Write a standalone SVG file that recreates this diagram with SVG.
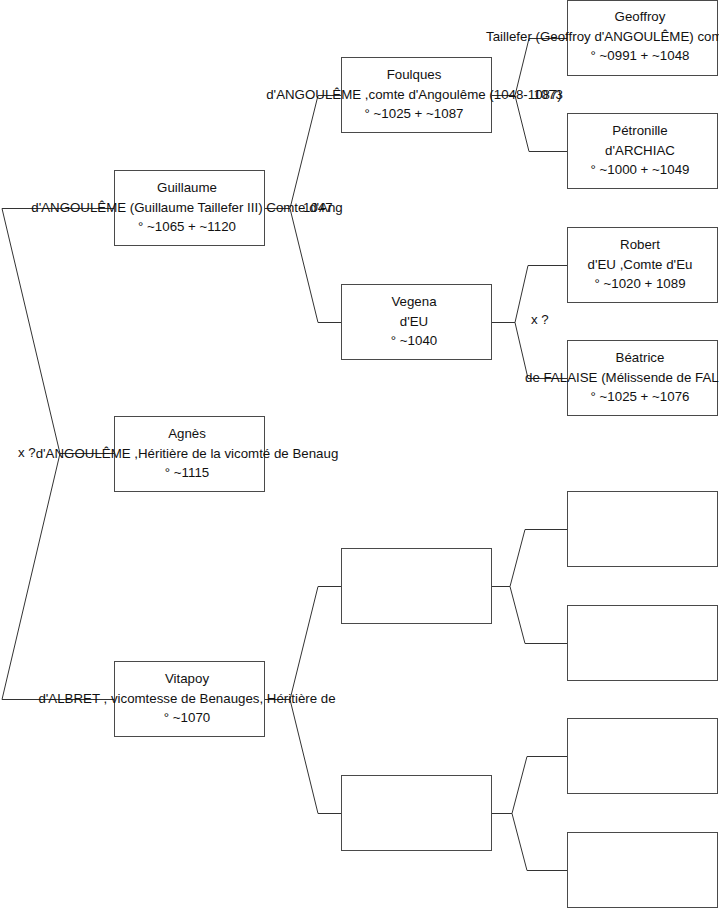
<svg xmlns="http://www.w3.org/2000/svg" width="719" height="908" viewBox="0 0 719 908">
<style>
.box{fill:none;stroke:#4a4a4a;stroke-width:1}
.t{font-family:"Liberation Sans",Arial,sans-serif;font-size:13.3px;fill:#111;text-anchor:middle}
.s{text-anchor:start}
.e{text-anchor:end}
.c{fill:none;stroke:#333;stroke-width:1}
</style>
<rect width="719" height="908" fill="#fff"/>
<g id="connectors">
<path class="c" d="M114,453.5 H60 L2,208.5 H114 M60,453.5 L2,699.5 H114"/>
<path class="c" d="M265,208.5 H290 L318,95.5 H341 M290,208.5 L318,322.5 H341"/>
<path class="c" d="M265,699.5 H290 L318,586.5 H341 M290,699.5 L318,813.5 H341"/>
<path class="c" d="M492,95.5 H515 L529,38.5 H567 M515,95.5 L529,151.5 H567"/>
<path class="c" d="M492,322.5 H515 L528,265.5 H567 M515,322.5 L528,378.5 H567"/>
<path class="c" d="M492,586.5 H510 L525,529.5 H567 M510,586.5 L525,643.5 H567"/>
<path class="c" d="M492,813.5 H512 L527,756.5 H567 M512,813.5 L527,870.5 H567"/>
<text class="t s" x="531" y="324">x ?</text>
<text class="t s" x="18" y="457">x ?</text>
</g>
<g id="guillaume">
<rect class="box" x="114.5" y="170.5" width="150" height="75"/>
<text class="t" x="187" y="192">Guillaume</text>
<text class="t" x="187" y="212">d'ANGOULÊME (Guillaume Taillefer III) Comte d'Ang</text>
<text class="t s" x="303" y="212">1047</text>
<text class="t" x="187" y="231">° ~1065 + ~1120</text>
</g>
<g id="agnes">
<rect class="box" x="114.5" y="416.5" width="150" height="75"/>
<text class="t" x="187" y="438">Agnès</text>
<text class="t" x="187" y="458">d'ANGOULÊME ,Héritière de la vicomté de Benaug</text>
<text class="t" x="187" y="477">° ~1115</text>
</g>
<g id="vitapoy">
<rect class="box" x="114.5" y="661.5" width="150" height="75"/>
<text class="t" x="187" y="683">Vitapoy</text>
<text class="t" x="187" y="703">d'ALBRET , vicomtesse de Benauges, Héritière de</text>
<text class="t" x="187" y="722">° ~1070</text>
</g>
<g id="foulques">
<rect class="box" x="341.5" y="57.5" width="150" height="75"/>
<text class="t" x="414" y="79">Foulques</text>
<text class="t" x="414" y="99">d'ANGOULÊME ,comte d'Angoulême (1048-1087)</text>
<text class="t e" x="563" y="99">1073</text>
<text class="t" x="414" y="118">° ~1025 + ~1087</text>
</g>
<g id="vegena">
<rect class="box" x="341.5" y="284.5" width="150" height="75"/>
<text class="t" x="414" y="306">Vegena</text>
<text class="t" x="414" y="326">d'EU</text>
<text class="t" x="414" y="345">° ~1040</text>
</g>
<g id="unknown-father">
<rect class="box" x="341.5" y="548.5" width="150" height="75"/>
</g>
<g id="unknown-mother">
<rect class="box" x="341.5" y="775.5" width="150" height="75"/>
</g>
<g id="geoffroy">
<rect class="box" x="567.5" y="0.5" width="150" height="75"/>
<text class="t" x="640" y="21">Geoffroy</text>
<text class="t s" x="486" y="41">Taillefer (Geoffroy d'ANGOULÊME) com</text>
<text class="t" x="640" y="60">° ~0991 + ~1048</text>
</g>
<g id="petronille">
<rect class="box" x="567.5" y="113.5" width="150" height="75"/>
<text class="t" x="640" y="135">Pétronille</text>
<text class="t" x="640" y="155">d'ARCHIAC</text>
<text class="t" x="640" y="174">° ~1000 + ~1049</text>
</g>
<g id="robert">
<rect class="box" x="567.5" y="227.5" width="150" height="75"/>
<text class="t" x="640" y="249">Robert</text>
<text class="t" x="640" y="269">d'EU ,Comte d'Eu</text>
<text class="t" x="640" y="288">° ~1020 + 1089</text>
</g>
<g id="beatrice">
<rect class="box" x="567.5" y="340.5" width="150" height="75"/>
<text class="t" x="640" y="362">Béatrice</text>
<text class="t s" x="525" y="382">de FALAISE (Mélissende de FAL</text>
<text class="t" x="640" y="401">° ~1025 + ~1076</text>
</g>
<g id="empty-g3-1"><rect class="box" x="567.5" y="491.5" width="150" height="75"/></g>
<g id="empty-g3-2"><rect class="box" x="567.5" y="605.5" width="150" height="75"/></g>
<g id="empty-g3-3"><rect class="box" x="567.5" y="718.5" width="150" height="75"/></g>
<g id="empty-g3-4"><rect class="box" x="567.5" y="832.5" width="150" height="75"/></g>
</svg>
